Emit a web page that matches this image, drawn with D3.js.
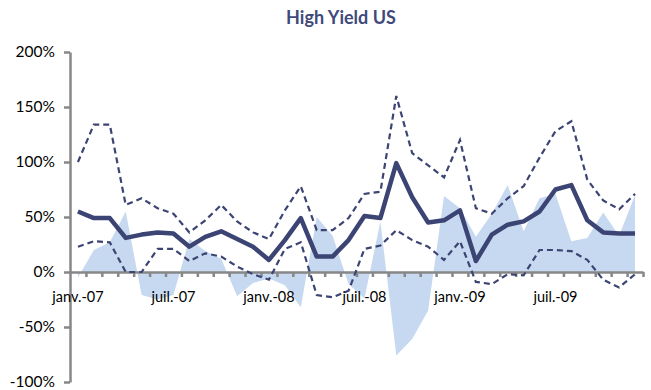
<!DOCTYPE html>
<html>
<head>
<meta charset="utf-8">
<script src="https://cdn.jsdelivr.net/npm/d3@7"></script>
<style>
  html, body { margin: 0; padding: 0; background: #fff; }
  svg text { font-family: Lato, "Open Sans", sans-serif; }
</style>
</head>
<body>
<svg id="chart" width="651" height="390"></svg>
<script>
// Monthly series, janv.-07 .. déc.-09 (values in %)
const months = d3.range(36).map(i => new Date(2007, i, 1));
const monthNames = ["janv.", "févr.", "mars", "avr.", "mai", "juin", "juil.", "août", "sept.", "oct.", "nov.", "déc."];

const areaValues = [-5, 20, 27, 55, -21, -25, -21, 30, 19, 12,
                    -22, -10, -6, -12, -32, 50, 33, -11, -24, 46,
                    -76, -61, -35, 69, 58, 32, 53, 79, 37, 67,
                    71, 28, 31, 54, 33, 70];
const mainValues = [55, 49, 49, 31, 34, 36, 35, 23, 32, 37,
                    30, 23, 11, 29, 49, 14, 14, 29, 51, 49,
                    99, 68, 45, 47, 56, 10, 34, 43, 46, 55,
                    75, 79, 47, 36, 35, 35];
const upperValues = [100, 134, 134, 61, 67, 58, 53, 36, 47, 61,
                     46, 36, 30, 56, 78, 38, 38, 49, 71, 73,
                     160, 108, 97, 86, 120, 58, 53, 67, 78, 104,
                     128, 137, 84, 65, 57, 71];
const lowerValues = [23, 28, 27, 0, 0, 21, 21, 10, 17, 14,
                     5, -2, -7, 21, 27, -21, -23, -17, 21, 24,
                     38, 29, 23, 11, 28, -9, -11, -2, -3, 20,
                     20, 19, 11, -7, -14, -2];
const yTicks = [-100, -50, 0, 50, 100, 150, 200];

const svg = d3.select("#chart");
const plotLeft = 70, plotRight = 643, plotTop = 52, plotBottom = 382;

const x = d3.scaleBand().domain(months.map((d, i) => i)).range([plotLeft, plotRight]).paddingInner(0).paddingOuter(0);
const xBound = d3.scaleLinear().domain([0, 36]).range([plotLeft, plotRight]);
const y = d3.scaleLinear().domain([-100, 200]).range([plotBottom, plotTop]);
const cx = i => x(i) + x.bandwidth() / 2;

const navy = "#3C4473";
const axisGray = "#878787";

// title
svg.append("text")
  .attr("x", 341).attr("y", 24)
  .attr("text-anchor", "middle")
  .attr("font-size", 18).attr("font-weight", "bold")
  .attr("fill", "#3F4A7B")
  .text("High Yield US");

// shaded area between zero and the area series
svg.append("path")
  .datum(areaValues)
  .attr("fill", "#C6D9F0")
  .attr("d", d3.area().x((d, i) => cx(i)).y0(y(0)).y1(d => y(d)));

// y axis
const yAxis = svg.append("g")
  .attr("transform", `translate(${plotLeft},0)`)
  .call(d3.axisLeft(y).tickValues(yTicks).tickSize(6).tickSizeOuter(0).tickPadding(9)
    .tickFormat(d => d + "%"));
yAxis.select(".domain").attr("stroke", axisGray).attr("stroke-width", 2.5);
yAxis.selectAll(".tick line").attr("stroke", axisGray).attr("stroke-width", 2.5);
yAxis.selectAll(".tick text").attr("font-size", 15.5).attr("fill", "#000")
  .attr("font-family", "Lato, 'Open Sans', sans-serif");

// x axis: tick marks at month boundaries
const xAxis = svg.append("g")
  .attr("transform", `translate(0,${y(0)})`)
  .call(d3.axisBottom(xBound).tickValues(d3.range(1, 37)).tickSize(5).tickSizeOuter(0).tickFormat(""));
xAxis.select(".domain").attr("stroke", axisGray).attr("stroke-width", 2.5);
xAxis.selectAll(".tick line").attr("stroke", axisGray).attr("stroke-width", 2.5);

// x axis labels every six months, centred on the month
const xLabels = svg.append("g")
  .attr("transform", `translate(0,${y(0)})`)
  .call(d3.axisBottom(x).tickValues(d3.range(0, 36, 6)).tickSize(0).tickPadding(20)
    .tickFormat(i => monthNames[months[i].getMonth()] + "-" + String(months[i].getFullYear()).slice(2)));
xLabels.select(".domain").remove();
xLabels.selectAll(".tick text").attr("font-size", 14.5).attr("fill", "#000")
  .attr("font-family", "Lato, 'Open Sans', sans-serif");

// lines
const line = d3.line().x((d, i) => cx(i)).y(d => y(d));
[upperValues, lowerValues].forEach(vals => {
  svg.append("path").datum(vals)
    .attr("fill", "none").attr("stroke", navy)
    .attr("stroke-width", 2.2).attr("stroke-dasharray", "6,4")
    .attr("d", line);
});
svg.append("path").datum(mainValues)
  .attr("fill", "none").attr("stroke", navy)
  .attr("stroke-width", 4.5).attr("stroke-linejoin", "round")
  .attr("d", line);
</script>
</body>
</html>
